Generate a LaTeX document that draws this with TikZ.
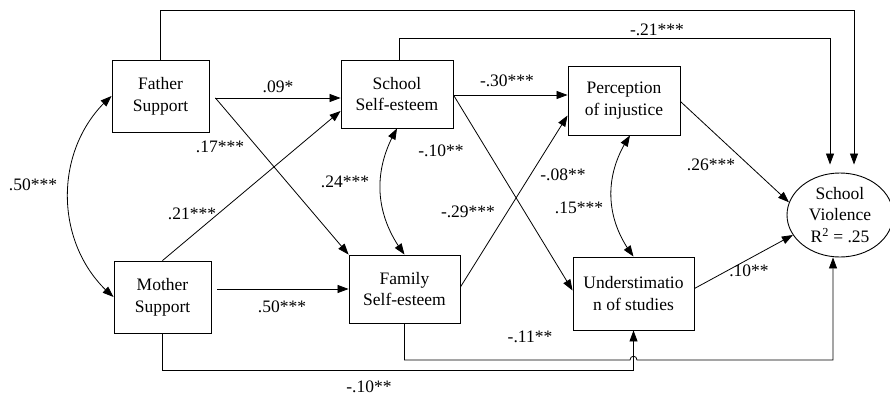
\documentclass[tikz,border=0pt]{standalone}
\usepackage{fontspec}
\setmainfont{Liberation Serif}
\usetikzlibrary{arrows.meta,calc,shapes.geometric,bending}
\begin{document}
\begin{tikzpicture}[x=1pt,y=-1pt,
  every node/.style={font=\fontsize{17.5}{21.7}\selectfont},
  box/.style={draw, line width=0.9pt, align=center, inner sep=0pt},
  oval/.style={draw, ellipse, line width=0.9pt, align=center, inner sep=0pt},
  link/.style={line width=0.8pt, -{Triangle[length=11pt,width=8pt]}},
  cov/.style={line width=0.8pt, {Triangle[length=11pt,width=8pt]}-{Triangle[length=11pt,width=8pt]}},
  coef/.style={inner sep=0pt}]
\useasboundingbox (0,0) rectangle (890,396);

% variables
\node[box, minimum width=97pt, minimum height=72pt] (fs) at (160.5,96) {Father\\Support};
\node[box, minimum width=97pt, minimum height=72pt] (ms) at (162.5,297) {Mother\\Support};
\node[box, minimum width=112pt, minimum height=68pt] (ss) at (397,94) {School\\Self-esteem};
\node[box, minimum width=111pt, minimum height=68pt] (fam) at (404.5,289) {Family\\Self-esteem};
\node[box, minimum width=112pt, minimum height=69pt] (per) at (624,100.5) {Perception\\of injustice};
\node[box, minimum width=121pt, minimum height=73pt] (und) at (633.5,293.5) {Understimatio\\n of studies};
\node[oval, minimum width=106pt, minimum height=84pt] (sv) at (840,215) {School\\Violence\\R\textsuperscript{2} = .25};

% helper points
\coordinate (fsout) at ($(fs.east)+(6,2)$);
\coordinate (ssout) at ($(ss.east)+(0,1)$);
\coordinate (hop) at (633.5,360);

% paths from the parents
\draw[link] (fsout) -- (fsout -| ss.west);
\draw[link] (fsout) -- (fam.north west);
\draw[link] (ms.north) -- ($(ss.west)+(0,17)$);
\draw[link] ($(ms.east)+(6,-8)$) -- (fam.west);

% paths from self-esteem
\draw[link] (ssout) -- (ssout -| per.west);
\draw[link] (ssout) -- ($(und.west)+(0,-3)$);
\draw[link] ($(fam.east)+(0,-2)$) -- ($(per.west)+(0,15)$);

% paths into school violence
\draw[link] ($(per.east)+(0,1)$) -- (sv.166);
\draw[link] ($(und.east)+(0,-5)$) -- (sv.203);
\draw[link, shorten >=8pt] (fs.north) -- ++(0,-49) -| ($(sv.north)+(14,0)$);
\draw[link, shorten >=8pt] ($(ss.north)+(2,0)$) -- ++(0,-21) -| ($(sv.north)+(-10,0)$);
\draw[link] (fam.south) |- ($(hop)+(-3.5,0)$)
  .. controls +(0,-5) and +(0,-5) .. ($(hop)+(3.5,0)$)
  -| ($(sv.south)+(-7,0)$);
\draw[link] (ms.south) |- ($(und.south)+(0,40)$) -- (und.south);

% covariances
\draw[cov] (fs.west) to[bend right=50] (ms.west);
\draw[cov] (ss.south) to[bend right=34] (fam.north);
\draw[cov] ($(per.south)+(6,0)$) to[bend right=36] (und.north);

% coefficients
\node[coef] (c1) at (657,30) {-.21***};
\node[coef] (c2) at (278,87) {.09*};
\node[coef] (c3) at (220,147) {.17***};
\node[coef] (c4) at (441,151) {-.10**};
\node[coef] (c5) at (33,185) {.50***};
\node[coef] (c6) at (345,182) {.24***};
\node[coef] (c7) at (192,214) {.21***};
\node[coef] (c8) at (282,307) {.50***};
\node[coef] (c9) at (369,387) {-.10**};
\node[coef] (c10) at (507,81) {-.30***};
\node[coef] (c11) at (563,175) {-.08**};
\node[coef] (c12) at (468,212) {-.29***};
\node[coef] (c13) at (579,208) {.15***};
\node[coef] (c14) at (711,165) {.26***};
\node[coef] (c15) at (749,271) {.10**};
\node[coef] (c16) at (530,337) {-.11**};
\end{tikzpicture}
\end{document}
